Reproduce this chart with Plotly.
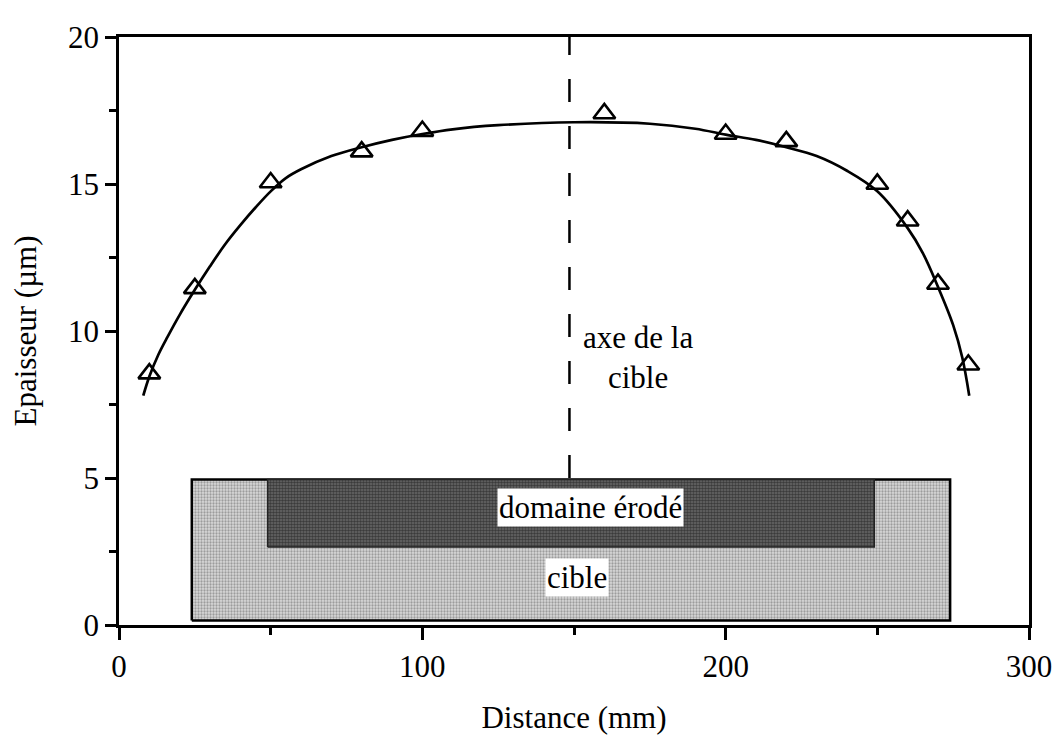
import plotly.graph_objects as go

# Measured points (triangles)
pts_x = [10, 25, 50, 80, 100, 160, 200, 220, 250, 260, 270, 280]
pts_y = [8.55, 11.45, 15.05, 16.1, 16.8, 17.4, 16.7, 16.45, 15.0, 13.75, 11.6, 8.85]

# Fitted curve
fit_x = [8, 10, 13, 16, 20, 25, 30, 35, 40, 45, 50, 55, 60, 70, 80, 90, 100, 110, 125, 150, 175, 190,
         200, 210, 220, 230, 240, 250, 260, 265, 270, 275, 278, 280.3]
fit_y = [7.8, 8.45, 9.2, 9.8, 10.55, 11.4, 12.2, 12.95, 13.6, 14.2, 14.75, 15.2, 15.5, 15.95, 16.25, 16.5, 16.7, 16.86, 17.0, 17.1, 17.05, 16.88,
         16.68, 16.5, 16.25, 15.95, 15.45, 14.75, 13.5, 12.65, 11.5, 10.2, 9.1, 7.8]

# Target schematic
cible_x = [24, 274]
cible_y = [0.15, 4.95]
erode_x = [49, 249]
erode_y = [2.65, 4.95]
axis_x = 148.5

x_ticks = [0, 100, 200, 300]
y_ticks = [0, 5, 10, 15, 20]

FONT = "Liberation Serif"
FS = 31

fig = go.Figure()

fig.add_trace(go.Scatter(
    x=[cible_x[0], cible_x[1], cible_x[1], cible_x[0], cible_x[0]],
    y=[cible_y[0], cible_y[0], cible_y[1], cible_y[1], cible_y[0]],
    mode="lines", fill="toself", line=dict(color="black", width=2.5),
    fillcolor="#c4c4c4",
    fillpattern=dict(shape=".", fgcolor="#606060", bgcolor="#d8d8d8", size=3, solidity=0.45),
    hoverinfo="skip", showlegend=False,
))
fig.add_trace(go.Scatter(
    x=[erode_x[0], erode_x[1], erode_x[1], erode_x[0], erode_x[0]],
    y=[erode_y[0], erode_y[0], erode_y[1], erode_y[1], erode_y[0]],
    mode="lines", fill="toself", line=dict(color="#222222", width=1.5),
    fillcolor="#444444",
    fillpattern=dict(shape=".", fgcolor="#0e0e0e", bgcolor="#686868", size=3, solidity=0.55),
    hoverinfo="skip", showlegend=False,
))

fig.add_trace(go.Scatter(
    x=fit_x, y=fit_y, mode="lines",
    line=dict(color="black", width=2.7, shape="spline", smoothing=1.0),
    hoverinfo="skip", showlegend=False,
))
fig.add_trace(go.Scatter(
    x=pts_x, y=pts_y, mode="markers",
    marker=dict(symbol="triangle-up-open", size=19, color="black", line=dict(width=2.6, color="black")),
    showlegend=False,
))

fig.add_shape(type="line", x0=axis_x, x1=axis_x, y0=cible_y[1] + 0.05, y1=20,
              line=dict(color="black", width=2.5, dash="23px,24px"), layer="below")

fig.add_annotation(x=171, y=9.1, text="axe de la<br>cible", showarrow=False,
                   font=dict(family=FONT, size=FS, color="black"), align="center")
fig.add_annotation(x=155.5, y=4.0, text="domaine érodé", showarrow=False,
                   font=dict(family=FONT, size=FS, color="black"), bgcolor="white", borderpad=1)
fig.add_annotation(x=151, y=1.6, text="cible", showarrow=False,
                   font=dict(family=FONT, size=FS, color="black"), bgcolor="white", borderpad=1)

fig.update_layout(
    width=1056, height=734,
    margin=dict(l=110, r=31, t=22, b=111),
    plot_bgcolor="white", paper_bgcolor="white",
    font=dict(family=FONT, size=FS, color="black"),
    showlegend=False,
)
fig.update_xaxes(
    range=[0, 300], tickvals=x_ticks, ticks="outside", ticklen=12, tickwidth=2.5,
    tickcolor="black", showline=True, linewidth=2.5, linecolor="black", mirror=True,
    showgrid=False, zeroline=False,
    minor=dict(dtick=50, tick0=0, ticks="outside", ticklen=7, tickwidth=2.5, tickcolor="black", showgrid=False),
    title=dict(text="Distance (mm)", standoff=24, font=dict(family=FONT, size=FS)),
    tickfont=dict(family=FONT, size=FS),
)
fig.update_yaxes(
    range=[0, 20], tickvals=y_ticks, ticks="outside", ticklen=11, tickwidth=2.5,
    tickcolor="black", showline=True, linewidth=2.5, linecolor="black", mirror=True,
    showgrid=False, zeroline=False,
    minor=dict(dtick=2.5, tick0=0, ticks="outside", ticklen=7, tickwidth=2.5, tickcolor="black", showgrid=False),
    title=dict(text="Epaisseur (µm)", standoff=26, font=dict(family=FONT, size=FS)),
    tickfont=dict(family=FONT, size=FS),
)

fig.write_html("out.html")
